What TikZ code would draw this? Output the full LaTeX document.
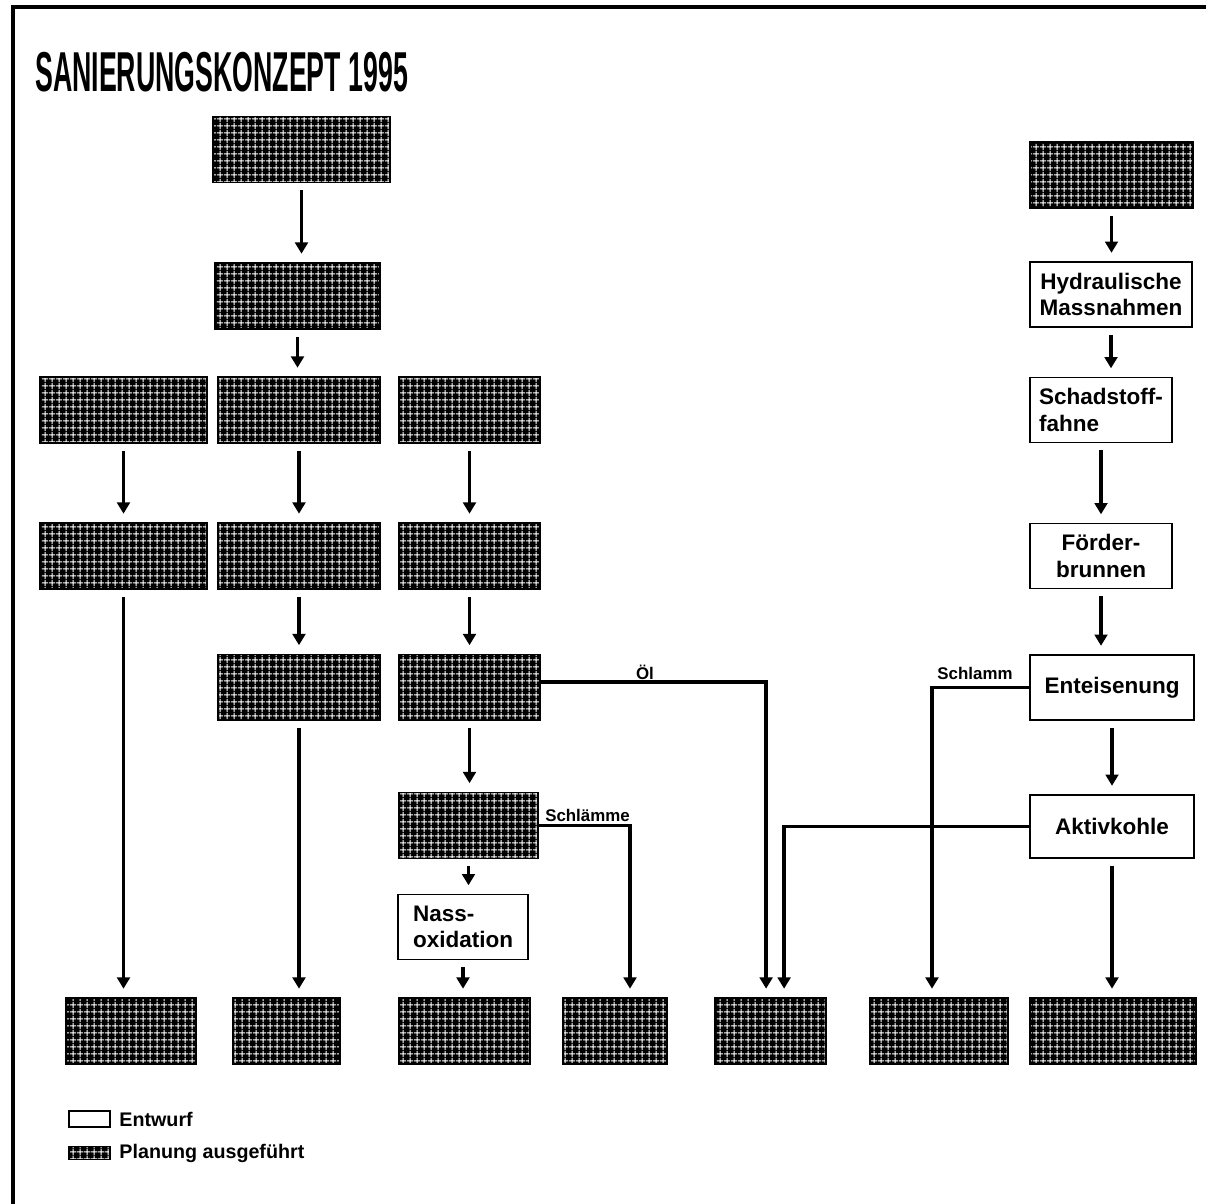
\documentclass[tikz,border=0pt]{standalone}
\usepackage{fontspec}
\setmainfont{Liberation Sans}
\usetikzlibrary{arrows.meta,positioning,calc,patterns}

% coarse white grid on black, like the scanned raster
\pgfdeclarepatternformonly{scangrid}{\pgfpointorigin}{\pgfqpoint{5pt}{5pt}}{\pgfqpoint{5pt}{5pt}}{%
  \pgfsetlinewidth{0.75pt}%
  \pgfpathmoveto{\pgfqpoint{0pt}{2.5pt}}\pgfpathlineto{\pgfqpoint{5pt}{2.5pt}}%
  \pgfpathmoveto{\pgfqpoint{2.5pt}{0pt}}\pgfpathlineto{\pgfqpoint{2.5pt}{5pt}}%
  \pgfusepath{stroke}}

\tikzset{
  planbox/.style={draw=black, line width=1.2pt, preaction={fill=black}, pattern=scangrid, pattern color=white,
                  minimum height=1.65cm, inner sep=0pt},
  draftbox/.style={draw=black, line width=1.2pt, fill=white, minimum height=1.62cm, inner sep=3pt,
                   font=\bfseries\fontsize{16}{19}\selectfont},
  flow/.style={line width=2.6pt, -{Triangle[width=9pt,length=8pt]}, shorten <=5pt, shorten >=6pt},
  side/.style={flow, shorten <=0pt},
  tag/.style={font=\bfseries\fontsize{12}{14}\selectfont, inner sep=0pt},
  legtext/.style={font=\bfseries\fontsize{14}{16}\selectfont, inner sep=0pt}
}

\begin{document}
\begin{tikzpicture}[x=0.025cm, y=-0.025cm]
\useasboundingbox (0,0) rectangle (1206,1204);
% frame and title
\draw[line width=0.1cm] (1206,7) -| (13,1204);
\node[anchor=west, inner sep=0pt] (title) at (35,72)
  {\scalebox{0.475}[1]{\bfseries\fontsize{40}{40}\selectfont SANIERUNGSKONZEPT 1995}};

% planned (hatched) boxes
\foreach \name/\xpos/\ypos/\bw in {a1/123.5/410/4.18, a2/123.5/556/4.18,
    t1/301.5/149.5/4.43, t2/297.5/296/4.13, t3/299/410/4.05, t4/299/556/4.05, t5/299/687.5/4.05,
    s1/469.5/410/3.53, s2/469.5/556/3.53, s3/469.5/687.5/3.53, s4/468.5/825.5/3.48,
    r1/1111.5/175/4.08,
    b1/131/1031/3.25, b2/286.5/1031/2.68, b3/464.5/1031/3.28, b4/615/1031/2.6,
    b5/770.5/1031/2.78, b6/939/1031/3.45, b7/1113/1031/4.15} {
  \node[planbox, minimum width=\bw cm] (\name) at (\xpos,\ypos) {};
}

% draft boxes
\node[draftbox, minimum width=4.05cm, align=center] (hydr) at (1111,294.5) {Hydraulische\\Massnahmen};
\node[draftbox, minimum width=3.55cm, align=left] (fahne) at (1101,410) {Schadstoff-\\fahne};
\node[draftbox, minimum width=3.55cm, align=center] (foerder) at (1101,556) {Förder-\\brunnen};
\node[draftbox, minimum width=4.1cm] (enteis) at (1112,687.5) {Enteisenung};
\node[draftbox, minimum width=4.1cm, minimum height=1.57cm] (aktiv) at (1112,826.5) {Aktivkohle};
\node[draftbox, minimum width=3.25cm, align=left] (nass) at (463,927) {Nass-\\oxidation};

% straight flows
\foreach \from/\to in {t1/t2, t2/t3, t3/t4, t4/t5, t5/b2, a1/a2, a2/b1,
    s1/s2, s2/s3, s3/s4, s4/nass, nass/b3,
    r1/hydr, hydr/fahne, fahne/foerder, foerder/enteis, enteis/aktiv, aktiv/b7}
  \draw[flow] (\from) -- (\from |- \to.north);

% side streams
\draw[side] ([yshift=0.14cm]s3.east) -| ([xshift=-0.11cm]b5.north);
\node[tag] (oel) at (645,672) {Öl};
\draw[side] (s4.east) -| ([xshift=0.375cm]b4.north);
\node[tag, anchor=west] (schlaemme) at (545,815) {Schlämme};
\draw[side] (enteis.west) -| ([xshift=-0.175cm]b6.north);
\node[tag] (schlamm) at (975,673) {Schlamm};
\draw[side] (aktiv.west) -| ([xshift=0.34cm]b5.north);

% legend
\node[draw, line width=1.2pt, minimum width=1.02cm, minimum height=0.4cm, inner sep=0pt] (legdraft) at (89.5,1119) {};
\node[planbox, minimum width=1.02cm, minimum height=0.33cm] (legplan) at (89.5,1153) {};
\node[legtext, right=6pt of legdraft] (legdrafttext) {Entwurf};
\node[legtext, right=6pt of legplan] (legplantext) {Planung ausgeführt};
\end{tikzpicture}
\end{document}
